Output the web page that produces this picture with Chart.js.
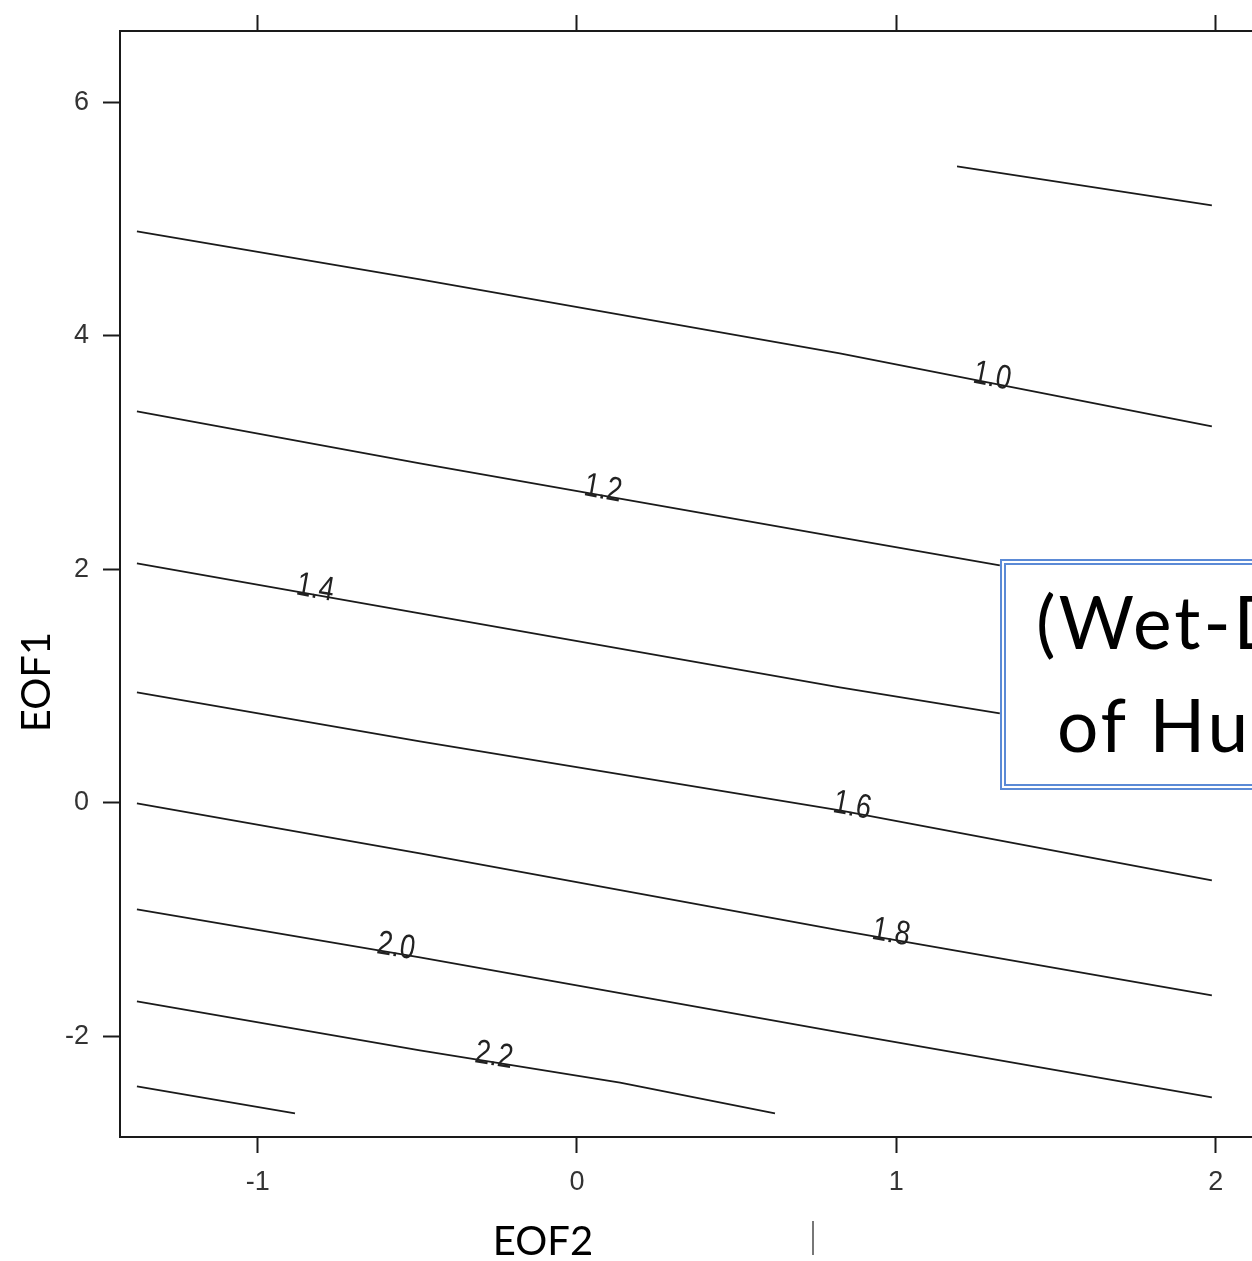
<!DOCTYPE html>
<html>
<head>
<meta charset="utf-8">
<script src="https://cdn.jsdelivr.net/npm/chart.js@4.4.0/dist/chart.umd.min.js"></script>
<style>
    html, body { margin: 0; padding: 0; background: #fff; overflow: hidden; }
    #wrap { position: relative; width: 1252px; height: 1261px; overflow: hidden; }
    #chart { position: absolute; left: 0; top: 0; }
    .note {
        position: absolute; left: 1000px; top: 559px; width: 420px; height: 231px;
        box-sizing: border-box; border: 6px double #5b8ad6; background: #fff;
    }
    .note span {
        position: absolute; font-family: Lato, sans-serif; font-size: 73px;
        line-height: 1.2; white-space: nowrap; color: #000; letter-spacing: 3px;
    }
    .cursor { position: absolute; left: 812px; top: 1221px; width: 2px; height: 34px; background: #777; }
</style>
</head>
<body>
<div id="wrap">
    <canvas id="chart" width="1300" height="1261"></canvas>
    <div class="note">
        <span style="left:30px; top:13px;">(Wet-Dry</span>
        <span style="left:51px; top:116px;">of Humidity</span>
    </div>
    <div class="cursor"></div>
</div>
<script>
/* ------------------------------------------------------------------ *
 |  Contour lines (x = EOF2, y = EOF1)
 * ------------------------------------------------------------------ */
const levels = ['0.8', '1.0', '1.2', '1.4', '1.6', '1.8', '2.0', '2.2', '2.4'];

const eof2_08 = [1.190, 1.988];
const eof1_08 = [5.450, 5.116];
const eof2_10 = [-1.378, -0.492, 0.823, 1.988];
const eof1_10 = [4.894, 4.483, 3.849, 3.224];
const eof2_12 = [-1.378, -0.492, 0.823, 1.324];
const eof1_12 = [3.353, 2.908, 2.274, 2.034];
const eof2_14 = [-1.378, -0.492, 0.823, 1.324];
const eof1_14 = [2.051, 1.623, 0.990, 0.767];
const eof2_16 = [-1.378, -0.492, 0.823, 1.988];
const eof1_16 = [0.947, 0.527, -0.063, -0.663];
const eof2_18 = [-1.378, -0.492, 0.823, 1.988];
const eof1_18 = [-0.003, -0.432, -1.091, -1.647];
const eof2_20 = [-1.378, -0.492, 0.823, 1.988];
const eof1_20 = [-0.911, -1.322, -1.964, -2.521];
const eof2_22 = [-1.378, -0.492, 0.135, 0.620];
const eof1_22 = [-1.699, -2.118, -2.395, -2.658];
const eof2_24 = [-1.378, -0.883];
const eof1_24 = [-2.426, -2.658];

// which contours carry an inline label, and where along EOF2 it sits
const labelled = ['1.0', '1.2', '1.4', '1.6', '1.8', '2.0', '2.2'];
const labelAt = [1.296, 0.078, -0.823, 0.858, 0.980, -0.570, -0.263];

const xTicks = [-1, 0, 1, 2];
const yTicks = [-2, 0, 2, 4, 6];

const xs = [eof2_08, eof2_10, eof2_12, eof2_14, eof2_16, eof2_18, eof2_20, eof2_22, eof2_24];
const ys = [eof1_08, eof1_10, eof1_12, eof1_14, eof1_16, eof1_18, eof1_20, eof1_22, eof1_24];

const INK = '#1a1a1a';

/* Inline contour labels + axis titles */
const decorations = {
    id: 'decorations',
    afterDatasetsDraw(chart) {
        const ctx = chart.ctx;
        ctx.save();
        ctx.fillStyle = '#222';
        ctx.font = "34px 'Liberation Sans', Arial, sans-serif";
        ctx.textAlign = 'center';
        ctx.textBaseline = 'alphabetic';
        labelled.forEach((lev, k) => {
            const i = levels.indexOf(lev);
            const pts = chart.getDatasetMeta(i).data;
            const px = chart.scales.x.getPixelForValue(labelAt[k]);
            let s = 0;
            while (s < pts.length - 2 && pts[s + 1].x < px) s++;
            const a = pts[s], b = pts[s + 1];
            const t = (px - a.x) / (b.x - a.x);
            const py = a.y + t * (b.y - a.y);
            ctx.save();
            ctx.translate(px, py);
            ctx.rotate(Math.atan2(b.y - a.y, b.x - a.x));
            ctx.scale(0.8, 1); // the R labels are set narrow
            ctx.fillText(lev, 0, 3);
            ctx.restore();
        });

        ctx.fillStyle = '#000';
        ctx.font = "40px Lato, sans-serif";
        ctx.fillText('EOF2', 543, 1255);
        ctx.translate(50, 682);
        ctx.rotate(-Math.PI / 2);
        ctx.fillText('EOF1', 0, 0);
        ctx.restore();
    },
};

const axisGrid = (len) => ({
    drawOnChartArea: false, drawTicks: true, tickLength: len, tickWidth: 2, tickColor: INK,
});
const tickFont = { family: "'Liberation Sans', Arial, sans-serif", size: 27 };

new Chart(document.getElementById('chart'), {
    type: 'scatter',
    data: {
        datasets: levels.map((lev, i) => ({
            label: lev,
            data: xs[i].map((x, j) => ({ x, y: ys[i][j] })),
            showLine: true,
            borderColor: INK,
            borderWidth: 1.8,
            pointRadius: 0,
            tension: 0,
            xAxisID: 'x',
            yAxisID: 'y',
        })),
    },
    options: {
        responsive: false,
        animation: false,
        events: [],
        layout: { padding: 0 },
        plugins: { legend: { display: false }, tooltip: { enabled: false } },
        scales: {
            x: {
                type: 'linear', position: 'bottom', min: -1.431, max: 2.264,
                afterBuildTicks: (s) => { s.ticks = xTicks.map((v) => ({ value: v })); },
                afterFit: (s) => { s.height = 124; },
                grid: axisGrid(16),
                border: { display: true, color: INK, width: 2 },
                ticks: { color: '#333', font: tickFont, padding: 13, maxRotation: 0 },
            },
            xTop: {
                type: 'linear', position: 'top', min: -1.431, max: 2.264,
                afterBuildTicks: (s) => { s.ticks = xTicks.map((v) => ({ value: v })); },
                afterFit: (s) => { s.height = 31; },
                grid: axisGrid(16),
                border: { display: true, color: INK, width: 2 },
                ticks: { display: false },
            },
            y: {
                type: 'linear', position: 'left', min: -2.86, max: 6.609,
                afterBuildTicks: (s) => { s.ticks = yTicks.map((v) => ({ value: v })); },
                afterFit: (s) => { s.width = 120; },
                grid: axisGrid(17),
                border: { display: true, color: INK, width: 2 },
                ticks: { color: '#333', font: tickFont, padding: 14 },
            },
        },
    },
    plugins: [decorations],
});
</script>
</body>
</html>
